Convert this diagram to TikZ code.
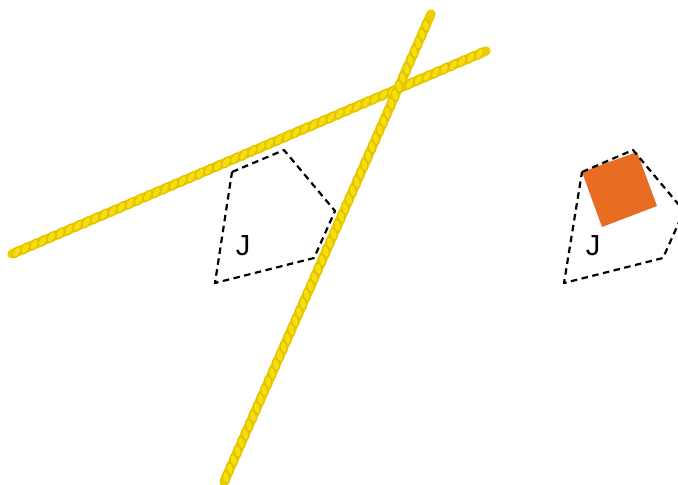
\documentclass[tikz,border=0pt]{standalone}
\usepackage{fontspec}
\setmainfont{Liberation Sans}
\usetikzlibrary{decorations.markings}
\definecolor{ropebase}{RGB}{236,206,0}
\definecolor{ropelight}{RGB}{246,222,10}
\definecolor{ropedark}{RGB}{224,192,0}
\definecolor{sqorange}{RGB}{232,108,34}
\tikzset{
  rope/.style={draw=ropebase, line width=9.5pt, line cap=round,
    postaction={decorate},
    decoration={markings, mark=between positions 5pt and -5pt step 9.5pt with {
      \filldraw[fill=ropelight, draw=ropedark, line width=1.1pt, rotate=35]
        (0,0) ellipse [x radius=6.3pt, y radius=3.4pt];}}},
  pentagon/.style={draw=black, line width=2.2pt, dash pattern=on 6.5pt off 4.5pt, line join=round},
  jlabel/.style={font=\fontsize{29}{32}\selectfont, inner sep=0pt}
}
\begin{document}
\begin{tikzpicture}[x=1pt, y=-1pt]
\useasboundingbox (0,0) rectangle (678,485);
% rope lines
\coordinate (r1a) at (12,254);
\coordinate (r1b) at (486,51);
\coordinate (r2a) at (224,482);
\coordinate (r2b) at (431,14);
\path[rope] (r1a) -- (r1b);
\path[rope] (r2a) -- (r2b);
% first pentagon
\coordinate (p1) at (232,172);
\coordinate (p2) at (284,150);
\coordinate (p3) at (335,211);
\coordinate (p4) at (314,258);
\coordinate (p5) at (215,283);
\draw[pentagon] (p1) -- (p2) -- (p3) -- (p4) -- (p5) -- cycle;
\node[jlabel] (j1) at (243,246) {J};
% second pentagon with orange square
\coordinate (q1) at (582,172);
\coordinate (q2) at (633,150);
\coordinate (q3) at (684,211);
\coordinate (q4) at (663,258);
\coordinate (q5) at (564,283);
\coordinate (s2) at (637,152);
\coordinate (s3) at (657,206);
\coordinate (s4) at (602,227);
\fill[sqorange] (q1) -- (s2) -- (s3) -- (s4) -- cycle;
\draw[pentagon] (q1) -- (q2) -- (q3) -- (q4) -- (q5) -- cycle;
\node[jlabel] (j2) at (593,246) {J};
\end{tikzpicture}
\end{document}
